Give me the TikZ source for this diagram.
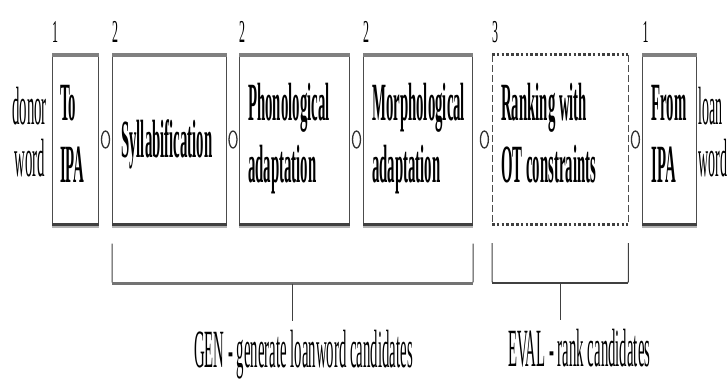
\documentclass[tikz,border=0pt]{standalone}
\usepackage{fontspec}
\usepackage{graphicx}
\setmainfont{Liberation Serif}
\usetikzlibrary{positioning,calc,shapes.geometric}
% condensed lines of text
\newcommand{\squeeze}[2][l]{\scalebox{0.275}[1]{\begin{tabular}{@{}#1@{}}#2\end{tabular}}}

\begin{document}
\begin{tikzpicture}[x=1bp, y=-1bp,
  stage/.style={draw=black!70, line width=1bp, rectangle, minimum height=169bp,
  inner sep=0pt},
  rankbox/.style={rectangle, minimum height=169bp, inner sep=0pt},
  stagetext/.style={inner sep=0pt, font=\bfseries\fontsize{54}{62}\selectfont},
  topbar/.style={line width=4bp, draw=black!50},
  botbar/.style={line width=2.2bp, draw=black!75},
  shadowbar/.style={line width=2bp, draw=black!30},
  dashside/.style={line width=1bp, draw=black!70, dash pattern=on 7bp off 3bp},
  dotbar/.style={line width=3bp, draw=black!75, dash pattern=on 2.6bp off 2.2bp},
  joint/.style={ellipse, draw=black!80, line width=1.3bp, inner sep=0pt,
  minimum width=8bp, minimum height=17bp},
  side/.style={inner sep=0pt, font=\fontsize{54}{51}\selectfont},
  num/.style={inner sep=0pt, font=\fontsize{32}{32}\selectfont},
  bracket/.style={line width=1bp, draw=black!75, rounded corners=1.5bp},
  bracketbar/.style={line width=3.5bp, draw=black!55},
  note/.style={inner sep=0pt, font=\fontsize{54}{54}\selectfont}
]
\useasboundingbox (0,0) rectangle (728,379);

% pipeline stages
\node[stage, minimum width=46bp, anchor=west] (toipa) at (52,139.5) {};
\node[stage, minimum width=114bp, right=13bp of toipa] (syll) {};
\node[stage, minimum width=110bp, right=12bp of syll] (phon) {};
\node[stage, minimum width=109bp, right=13bp of phon] (morph) {};
\node[rankbox, minimum width=136bp, right=19bp of morph] (rank) {};
\node[stage, minimum width=54bp, right=14bp of rank] (fromipa) {};

\node[stagetext, right=8bp of toipa.west] (toipatxt) {\squeeze{To\\IPA}};
\node[stagetext, right=9bp of syll.west, yshift=-6bp] (sylltxt) {\squeeze{Syllabification}};
\node[stagetext, right=9bp of phon.west] (phontxt) {\squeeze{Phonological\\adaptation}};
\node[stagetext, right=9bp of morph.west] (morphtxt) {\squeeze{Morphological\\adaptation}};
\node[stagetext, right=9bp of rank.west] (ranktxt) {\squeeze{Ranking with\\OT constraints}};
\node[stagetext, right=9bp of fromipa.west] (fromipatxt) {\squeeze{From\\IPA}};

\foreach \b in {toipa,syll,phon,morph,fromipa} {
  \draw[topbar] (\b.north west) -- (\b.north east);
  \draw[shadowbar] ([yshift=-2.5bp]\b.south west) -- ([yshift=-2.5bp]\b.south east);
  \draw[botbar] (\b.south west) -- (\b.south east);
}
\draw[dashside] (rank.north west) -- (rank.south west);
\draw[dashside] (rank.north east) -- (rank.south east);
\draw[dotbar] (rank.north west) -- (rank.north east);
\draw[dotbar] (rank.south west) -- (rank.south east);

% joints between stages
\node[joint] (j1) at ($(toipa.east)!0.5!(syll.west)$) {};
\node[joint] (j2) at ($(syll.east)!0.5!(phon.west)$) {};
\node[joint] (j3) at ($(phon.east)!0.5!(morph.west)$) {};
\node[joint] (j4) at ($(morph.east)!0.6!(rank.west)$) {};
\node[joint] (j5) at ($(rank.east)!0.5!(fromipa.west)$) {};

% input / output
\node[side, left=5bp of toipa] (donor) {\squeeze[c]{donor\\word}};
\node[side, right=1bp of fromipa] (loan) {\scalebox{0.26}[1]{\begin{tabular}{@{}l@{}}loan\\word\end{tabular}}};

% stage numbers
\node[num, above right=12bp and 0bp of toipa.north west] (n1) {\scalebox{0.375}[1]{1}};
\node[num, above right=12bp and 0bp of syll.north west] (n2) {\scalebox{0.375}[1]{2}};
\node[num, above right=12bp and 0bp of phon.north west] (n3) {\scalebox{0.375}[1]{2}};
\node[num, above right=12bp and 0bp of morph.north west] (n4) {\scalebox{0.375}[1]{2}};
\node[num, above right=12bp and 0bp of rank.north west] (n5) {\scalebox{0.375}[1]{3}};
\node[num, above right=12bp and 0bp of fromipa.north west] (n6) {\scalebox{0.375}[1]{1}};

% brackets
\coordinate (genL) at ([yshift=-59bp]syll.south west);
\coordinate (genR) at ([yshift=-59bp]morph.south east);
\coordinate (genM) at ($(genL)!0.5!(genR)$);
\coordinate (evalL) at ([yshift=-59bp]rank.south west);
\coordinate (evalR) at ([yshift=-59bp]rank.south east);
\coordinate (evalM) at ($(evalL)!0.5!(evalR)$);

\draw[bracket] ([yshift=-19bp]syll.south west) |- (genR) -- ([yshift=-19bp]morph.south east);
\draw[bracketbar] (genL) -- (genR);
\draw[bracket] ([yshift=-19bp]rank.south west) |- (evalR) -- ([yshift=-19bp]rank.south east);
\draw[line width=1.8bp, draw=black!75] (evalL) -- (evalR);

\node[note, anchor=north] (gen) at ($(genM)+(11,46)$) {\scalebox{0.275}[1]{GEN - generate loanword candidates}};
\node[note, anchor=north] (eval) at ($(evalM)+(19,46)$) {\scalebox{0.275}[1]{EVAL - rank candidates}};
\draw[bracket, shorten >=9bp] (genM) -- (genM |- gen.north);
\draw[bracket, shorten >=9bp] (evalM) -- (evalM |- eval.north);
\end{tikzpicture}
\end{document}
